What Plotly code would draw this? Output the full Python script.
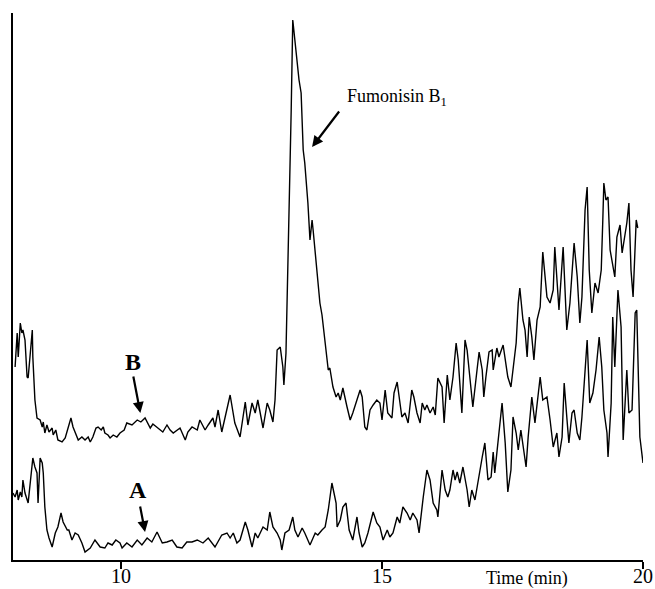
import plotly.graph_objects as go

# Trace B (sample spiked with fumonisin B1): retention time (min) and detector signal (a.u.)
time_b = [7.97, 8.01, 8.03, 8.07, 8.10, 8.12, 8.16, 8.20, 8.22, 8.26, 8.30, 8.31, 8.35, 8.39, 8.45, 8.49, 8.51, 8.54, 8.58, 8.62,
          8.68, 8.70, 8.75, 8.79, 8.87, 8.93, 8.98, 9.04, 9.08, 9.12, 9.18, 9.25, 9.31, 9.37, 9.41, 9.46, 9.52, 9.56, 9.62, 9.66,
          9.69, 9.75, 9.79, 9.85, 9.92, 9.98, 10.06, 10.11, 10.21, 10.31, 10.38, 10.46, 10.56, 10.61, 10.69, 10.80, 10.88, 10.94, 11.00, 11.07,
          11.13, 11.23, 11.28, 11.36, 11.46, 11.51, 11.61, 11.67, 11.76, 11.80, 11.86, 11.93, 12.03, 12.09, 12.18, 12.22, 12.28, 12.38, 12.43, 12.51,
          12.57, 12.62, 12.72, 12.80, 12.85, 12.91, 12.95, 12.99, 13.05, 13.10, 13.12, 13.16, 13.18, 13.22, 13.26, 13.29, 13.31, 13.37, 13.39, 13.41,
          13.45, 13.49, 13.52, 13.58, 13.62, 13.66, 13.68, 13.75, 13.81, 13.85, 13.91, 13.97, 14.00, 14.06, 14.12, 14.16, 14.20, 14.25, 14.33, 14.39,
          14.44, 14.52, 14.58, 14.62, 14.67, 14.71, 14.77, 14.83, 14.90, 14.96, 15.00, 15.06, 15.11, 15.19, 15.23, 15.29, 15.33, 15.38, 15.44, 15.50,
          15.57, 15.61, 15.67, 15.73, 15.77, 15.82, 15.86, 15.92, 15.98, 16.02, 16.07, 16.15, 16.19, 16.25, 16.30, 16.36, 16.42, 16.46, 16.53, 16.59,
          16.63, 16.69, 16.74, 16.82, 16.86, 16.92, 16.95, 16.99, 17.05, 17.11, 17.13, 17.20, 17.24, 17.32, 17.36, 17.41, 17.47, 17.51, 17.57, 17.61,
          17.64, 17.70, 17.74, 17.78, 17.82, 17.87, 17.91, 17.97, 18.03, 18.08, 18.12, 18.16, 18.22, 18.28, 18.31, 18.35, 18.39, 18.47, 18.51, 18.54,
          18.60, 18.68, 18.74, 18.79, 18.83, 18.89, 18.93, 18.97, 19.02, 19.08, 19.14, 19.20, 19.23, 19.25, 19.29, 19.33, 19.37, 19.42, 19.46, 19.50,
          19.56, 19.60, 19.65, 19.69, 19.73, 19.77, 19.81, 19.87, 19.90]
signal_b = [193, 227, 203, 237, 227, 230, 220, 183, 182, 210, 230, 203, 160, 142, 140, 133, 138, 127, 135, 128,
            132, 125, 130, 120, 118, 122, 132, 142, 133, 127, 120, 123, 120, 123, 118, 123, 132, 133, 130, 133,
            127, 125, 122, 125, 123, 127, 130, 137, 135, 140, 138, 142, 132, 136, 133, 128, 135, 130, 127, 130,
            132, 120, 128, 133, 130, 140, 130, 135, 142, 133, 150, 128, 150, 165, 137, 132, 123, 158, 135, 157,
            147, 160, 132, 157, 150, 138, 160, 210, 213, 193, 175, 207, 250, 350, 450, 540, 530, 500, 487, 480,
            467, 410, 397, 357, 320, 340, 330, 290, 257, 245, 217, 190, 192, 173, 163, 167, 160, 172, 153, 140,
            147, 160, 170, 163, 133, 130, 150, 155, 160, 157, 140, 170, 147, 142, 167, 178, 160, 143, 147, 137,
            170, 163, 147, 137, 157, 150, 155, 147, 153, 145, 182, 173, 137, 185, 160, 183, 217, 200, 147, 220,
            210, 177, 153, 190, 208, 190, 163, 183, 208, 210, 190, 212, 203, 215, 200, 183, 173, 190, 217, 257,
            272, 240, 230, 203, 243, 223, 200, 240, 253, 308, 283, 263, 257, 270, 313, 277, 250, 313, 273, 230,
            257, 317, 283, 237, 263, 350, 373, 290, 247, 277, 267, 290, 340, 377, 360, 363, 310, 297, 283, 323,
            335, 307, 323, 337, 357, 290, 263, 340, 332]

# Trace A (blank sample)
time_a = [7.93, 7.97, 8.01, 8.03, 8.07, 8.10, 8.12, 8.16, 8.22, 8.26, 8.31, 8.35, 8.39, 8.41, 8.45, 8.49, 8.51, 8.54, 8.58, 8.62,
          8.68, 8.74, 8.79, 8.85, 8.89, 8.97, 9.00, 9.06, 9.12, 9.18, 9.25, 9.31, 9.41, 9.50, 9.60, 9.69, 9.75, 9.83, 9.90, 9.98,
          10.02, 10.11, 10.21, 10.31, 10.40, 10.50, 10.59, 10.69, 10.79, 10.88, 10.98, 11.07, 11.17, 11.26, 11.36, 11.46, 11.57, 11.67, 11.80, 11.93,
          12.03, 12.09, 12.15, 12.22, 12.28, 12.38, 12.43, 12.51, 12.57, 12.62, 12.72, 12.80, 12.85, 12.91, 12.99, 13.05, 13.08, 13.14, 13.22, 13.29,
          13.33, 13.39, 13.47, 13.52, 13.62, 13.72, 13.77, 13.85, 13.91, 13.97, 14.04, 14.08, 14.12, 14.14, 14.20, 14.25, 14.31, 14.37, 14.44, 14.52,
          14.56, 14.62, 14.67, 14.73, 14.83, 14.90, 14.96, 15.02, 15.10, 15.15, 15.21, 15.29, 15.34, 15.40, 15.48, 15.54, 15.59, 15.67, 15.71, 15.79,
          15.86, 15.92, 15.98, 16.05, 16.07, 16.15, 16.21, 16.26, 16.30, 16.36, 16.40, 16.44, 16.49, 16.55, 16.63, 16.67, 16.72, 16.78, 16.84, 16.92,
          16.97, 17.03, 17.09, 17.13, 17.16, 17.22, 17.30, 17.36, 17.41, 17.47, 17.51, 17.57, 17.61, 17.66, 17.70, 17.76, 17.80, 17.87, 17.93, 17.97,
          18.03, 18.08, 18.16, 18.22, 18.28, 18.35, 18.39, 18.45, 18.49, 18.54, 18.58, 18.64, 18.68, 18.74, 18.79, 18.83, 18.89, 18.93, 18.98, 19.04,
          19.10, 19.16, 19.21, 19.25, 19.31, 19.33, 19.39, 19.42, 19.46, 19.52, 19.58, 19.62, 19.69, 19.73, 19.79, 19.85, 19.88, 19.94, 20.00]
signal_a = [67, 63, 70, 60, 68, 63, 80, 67, 57, 77, 102, 93, 87, 57, 102, 97, 87, 53, 30, 22,
            13, 27, 33, 47, 38, 30, 30, 20, 27, 25, 17, 8, 12, 20, 13, 12, 17, 15, 20, 17,
            12, 17, 13, 20, 15, 22, 18, 28, 17, 18, 20, 13, 12, 18, 18, 20, 17, 22, 13, 25,
            27, 22, 27, 17, 20, 38, 30, 13, 27, 22, 33, 30, 48, 33, 27, 20, 10, 27, 30, 43,
            30, 23, 32, 27, 15, 27, 25, 30, 33, 50, 77, 67, 57, 33, 40, 53, 57, 30, 20, 43,
            27, 13, 17, 27, 48, 37, 33, 20, 30, 23, 27, 43, 37, 53, 47, 40, 47, 40, 27, 63,
            90, 80, 57, 50, 43, 90, 70, 63, 70, 90, 80, 88, 77, 93, 70, 53, 70, 60, 80, 103,
            117, 80, 83, 108, 87, 117, 157, 117, 68, 90, 143, 127, 110, 130, 113, 93, 123, 163, 137, 157,
            183, 160, 163, 140, 113, 127, 103, 123, 177, 143, 117, 147, 150, 127, 120, 143, 190, 220, 157, 167,
            190, 223, 193, 150, 127, 103, 157, 243, 193, 270, 233, 120, 190, 147, 150, 247, 250, 123, 97]

tick_values = [10, 15, 20]
tick_labels = ["10", "15", "20"]

serif = "Liberation Serif, Times New Roman, serif"

fig = go.Figure()
fig.add_trace(go.Scatter(x=time_b, y=signal_b, mode="lines", name="B",
                         line=dict(color="black", width=1.4), showlegend=False, hoverinfo="skip"))
fig.add_trace(go.Scatter(x=time_a, y=signal_a, mode="lines", name="A",
                         line=dict(color="black", width=1.4), showlegend=False, hoverinfo="skip"))

annotations = [
    # Labels
    dict(x=10.23, y=198, xref="x", yref="y", text="<b>B</b>", showarrow=False,
         font=dict(family=serif, size=24, color="black")),
    dict(x=10.33, y=70, xref="x", yref="y", text="<b>A</b>", showarrow=False,
         font=dict(family=serif, size=24, color="black")),
    dict(x=15.29, y=463, xref="x", yref="y", text="Fumonisin B<sub>1</sub>", showarrow=False,
         font=dict(family=serif, size=18, color="black")),
    dict(x=17.78, y=0, xref="x", yref="paper", yanchor="middle", yshift=-18, text="Time (min)",
         showarrow=False, font=dict(family=serif, size=18, color="black")),
    # Arrows
    dict(x=10.37, y=147, ax=10.23, ay=185, xref="x", yref="y", axref="x", ayref="y",
         text="", showarrow=True, arrowhead=2, arrowsize=1, arrowwidth=2.2, arrowcolor="black"),
    dict(x=10.46, y=28, ax=10.36, ay=55, xref="x", yref="y", axref="x", ayref="y",
         text="", showarrow=True, arrowhead=2, arrowsize=1, arrowwidth=2.2, arrowcolor="black"),
    dict(x=13.66, y=413, ax=14.20, ay=450, xref="x", yref="y", axref="x", ayref="y",
         text="", showarrow=True, arrowhead=2, arrowsize=1, arrowwidth=2.2, arrowcolor="black"),
]

fig.update_layout(
    width=655, height=589,
    margin=dict(l=13, r=12, t=13, b=29, autoexpand=False),
    paper_bgcolor="white", plot_bgcolor="white",
    showlegend=False,
    annotations=annotations,
    xaxis=dict(range=[7.93, 20], showline=True, linecolor="black", linewidth=2,
               ticks="outside", ticklen=7, tickwidth=1.5, tickcolor="black",
               tickvals=tick_values, ticktext=tick_labels, automargin=False,
               ticklabelstandoff=-10,
               tickfont=dict(family=serif, size=20, color="black"),
               showgrid=False, zeroline=False),
    yaxis=dict(range=[0, 547], showline=True, linecolor="black", linewidth=2,
               showticklabels=False, ticks="", showgrid=False, zeroline=False,
               automargin=False),
)

fig.write_html("out.html", config={"displayModeBar": False},
               post_script="document.body.style.margin='0';document.body.style.padding='0';")
